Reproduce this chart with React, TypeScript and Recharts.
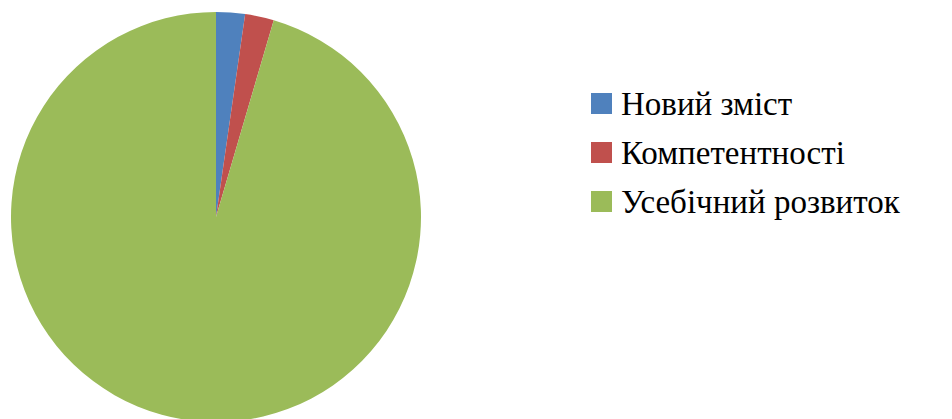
import { PieChart, Pie, Cell } from "recharts";

const categories = ["Новий зміст", "Компетентності", "Усебічний розвиток"];
const values = [1, 1, 42];
const colors = ["#4F81BD", "#C0504D", "#9BBB59"];

const data = categories.map((name, i) => ({ name, value: values[i] }));

const serifStack = "'Liberation Serif', Tinos, 'Times New Roman', 'Noto Serif', 'DejaVu Serif', serif";

// legend drawn as plain html on the right side
function LegendBox() {
  return (
    <div
      style={{
        position: "absolute",
        left: 591,
        top: 80,
        color: "#000",
      }}
    >
      {categories.map((name, i) => (
        <div key={name} style={{ position: "relative", height: 49 }}>
          <div
            style={{
              position: "absolute",
              left: 0,
              top: 13,
              width: 21,
              height: 21,
              background: colors[i],
            }}
          />
          <div
            style={{
              position: "absolute",
              left: 30,
              top: 0,
              fontFamily: serifStack,
              fontSize: 33,
              lineHeight: "49px",
              whiteSpace: "nowrap",
            }}
          >
            {name}
          </div>
        </div>
      ))}
    </div>
  );
}

export default function App() {
  return (
    <div
      style={{
        position: "fixed",
        left: 0,
        top: 0,
        width: 952,
        height: 419,
        background: "#fff",
        fontFamily: serifStack,
      }}
    >
      <PieChart
        width={952}
        height={419}
        margin={{ top: 0, right: 0, bottom: 0, left: 0 }}
      >
        <Pie
          data={data}
          dataKey="value"
          nameKey="name"
          cx={216}
          cy={217}
          outerRadius={205}
          startAngle={90}
          endAngle={-270}
          stroke="none"
          isAnimationActive={false}
        >
          {data.map((d, i) => (
            <Cell key={d.name} fill={colors[i]} />
          ))}
        </Pie>
      </PieChart>
      <LegendBox />
    </div>
  );
}
